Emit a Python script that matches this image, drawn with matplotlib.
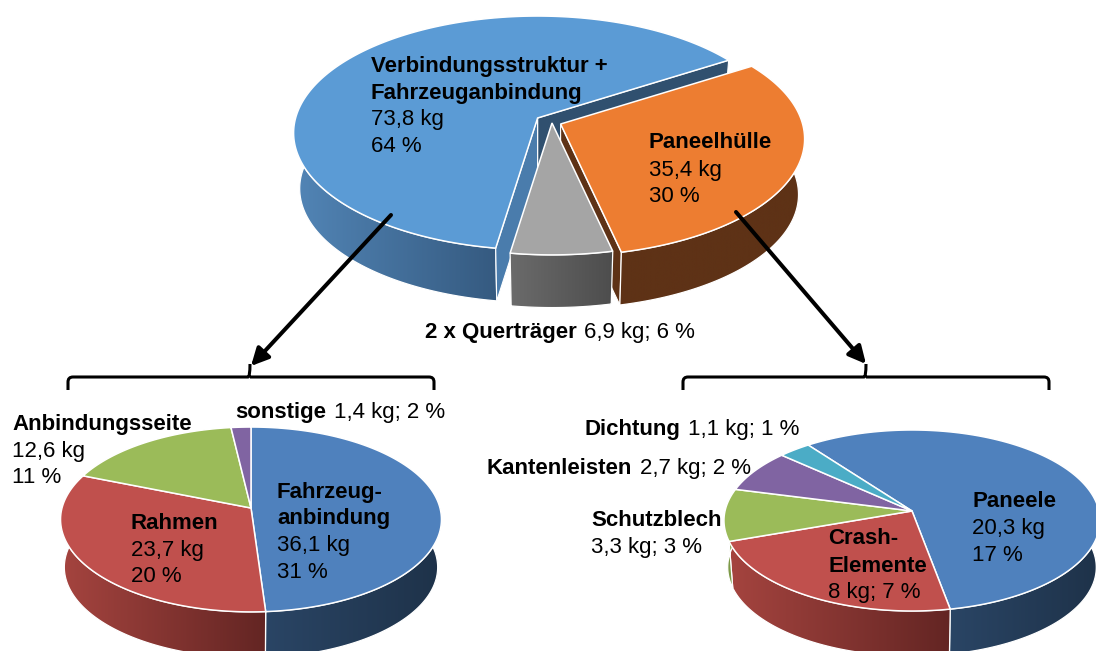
import numpy as np
import matplotlib
matplotlib.use('Agg')
import matplotlib.pyplot as plt
from matplotlib.colors import LinearSegmentedColormap
from matplotlib.patches import PathPatch, Polygon
from matplotlib.path import Path

plt.rcParams['font.family'] = ['Liberation Sans', 'DejaVu Sans']

# Gewichte in kg
main_names = ['Verbindungsstruktur + Fahrzeuganbindung', 'Paneelhülle', '2 x Querträger']
main_values = [73.8, 35.4, 6.9]
left_names = ['Fahrzeuganbindung', 'Rahmen', 'Anbindungsseite', 'sonstige']
left_values = [36.1, 23.7, 12.6, 1.4]
right_names = ['Paneele', 'Crash-Elemente', 'Schutzblech', 'Kantenleisten', 'Dichtung']
right_values = [20.3, 8, 3.3, 2.7, 1.1]

# x, Grundlinie (Pixel), Text, fett?
labels = [
    (371, 72, 'Verbindungsstruktur +', True), (371, 99, 'Fahrzeuganbindung', True),
    (371, 125, '73,8 kg', False), (371, 152, '64 %', False),
    (649, 148, 'Paneelhülle', True), (649, 176, '35,4 kg', False), (649, 202, '30 %', False),
    (425, 338, '2 x Querträger', True), (584, 338, '6,9 kg; 6 %', False),
    (235, 418, 'sonstige', True), (334, 418, '1,4 kg; 2 %', False),
    (12, 430, 'Anbindungsseite', True), (12, 457, '12,6 kg', False), (12, 483, '11 %', False),
    (131, 529, 'Rahmen', True), (131, 556, '23,7 kg', False), (131, 582, '20 %', False),
    (277, 498, 'Fahrzeug-', True), (277, 524, 'anbindung', True),
    (277, 551, '36,1 kg', False), (277, 578, '31 %', False),
    (584, 435, 'Dichtung', True), (688, 435, '1,1 kg; 1 %', False),
    (487, 474, 'Kantenleisten', True), (640, 474, '2,7 kg; 2 %', False),
    (591, 526, 'Schutzblech', True), (591, 553, '3,3 kg; 3 %', False),
    (972, 507, 'Paneele', True), (972, 534, '20,3 kg', False), (972, 561, '17 %', False),
    (828, 544, 'Crash-', True), (828, 572, 'Elemente', True), (828, 598, '8 kg; 7 %', False),
]

fig = plt.figure(figsize=(10.96, 6.51), dpi=100)
ax = fig.add_axes([0, 0, 1, 1])
z = [1]


def next_z():
    z[0] += 1
    return z[0]


def project(c, geo, deg, lower=False):
    # Kreis auf Ellipse mit leichter Perspektive
    rx, ry, k, dy, s = geo
    th = np.radians(deg)
    den = 1 + k * np.cos(th)
    if lower:
        return np.column_stack([c[0] + s * rx * np.sin(th) / den,
                                c[1] + dy - s * ry * np.cos(th) / den])
    return np.column_stack([c[0] + rx * np.sin(th) / den,
                            c[1] - ry * np.cos(th) / den])


def angles_of(values, start):
    spans = np.array(values) / np.sum(values) * 360
    return start + np.concatenate([[0], np.cumsum(spans)])


def top_face(c, geo, a, b, color):
    rim = project(c, geo, np.linspace(a, b, 200))
    ax.add_patch(Polygon(np.vstack([[c], rim]), closed=True, fc=color, ec='white', lw=1.1, zorder=next_z()))


def cut_face(c, geo, a, color):
    top = project(c, geo, np.array([a]))[0]
    bot = project(c, geo, np.array([a]), lower=True)[0]
    pts = [c, top, bot, (c[0], c[1] + geo[3])]
    ax.add_patch(Polygon(pts, closed=True, fc=color, ec='white', lw=0.8, zorder=next_z()))


def wall(c, geo, a, b, c1, c2):
    # nur der vordere Teil des Rands ist sichtbar, der Rest liegt unter der Deckfläche
    lo, hi = None, None
    for shift in (-360, 0, 360):
        l, h = max(a + shift, 65), min(b + shift, 295)
        if l < h:
            lo, hi = l, h
    if lo is None:
        return
    t = np.linspace(lo, hi, 200)
    pts = np.vstack([project(c, geo, t), project(c, geo, t[::-1], lower=True)])
    zz = next_z()
    im = ax.imshow(np.linspace(0, 1, 256)[None, :], aspect='auto', zorder=zz,
                   cmap=LinearSegmentedColormap.from_list('w', [c1, c2]),
                   extent=[pts[:, 0].min(), pts[:, 0].max(), pts[:, 1].max(), pts[:, 1].min()])
    clip = Polygon(pts, closed=True, fc='none', ec='none', transform=ax.transData)
    ax.add_patch(clip)
    im.set_clip_path(clip)
    ax.add_patch(Polygon(pts, closed=True, fc='none', ec='white', lw=0.9, zorder=zz))


def small_pie(c, geo, values, start, tops, walls):
    ang = angles_of(values, start)
    for i in range(len(values)):
        wall(c, geo, ang[i], ang[i + 1], *walls[i])
    for i in range(len(values)):
        top_face(c, geo, ang[i], ang[i + 1], tops[i])


def brace(x0, x1, xm, y, tip, head, lw=2.2):
    r = 5
    verts = [(x0, tip), (x0, y + r), (x0, y), (x0 + r, y), (xm - 2, y), (xm, y), (xm, head),
             (xm, y), (xm + 2, y), (x1 - r, y), (x1, y), (x1, y + r), (x1, tip)]
    codes = [Path.MOVETO, Path.LINETO, Path.CURVE3, Path.CURVE3, Path.LINETO, Path.CURVE3, Path.LINETO,
             Path.MOVETO, Path.LINETO, Path.LINETO, Path.CURVE3, Path.CURVE3, Path.LINETO]
    ax.add_patch(PathPatch(Path(verts, codes), fc='none', ec='black', lw=lw, zorder=60))


# Hauptkreis, Segmente einzeln herausgezogen
main_geo = (242, 115, 0.128, 56, 0.975)
c_blue, c_orange, c_gray = (537.6, 118), (560.6, 124), (552, 123)
a = angles_of(main_values, 188.7)
cut_face(c_blue, main_geo, a[1], '#30506f')
wall(c_blue, main_geo, a[0], a[1], '#5285b6', '#355a80')
cut_face(c_blue, main_geo, a[0], '#4a7cac')
top_face(c_blue, main_geo, a[0], a[1], '#5b9bd5')
cut_face(c_orange, main_geo, a[2], '#5e3216')
wall(c_orange, main_geo, a[1], a[2], '#5e3216', '#5e3216')
top_face(c_orange, main_geo, a[1], a[2], '#ed7d31')
wall(c_gray, main_geo, a[2], a[3], '#6b6b6b', '#4d4d4d')
top_face(c_gray, main_geo, a[2], a[3], '#a5a5a5')

# untere Kreise
office_tops = ['#4f81bd', '#c0504d', '#9bbb59', '#8064a2', '#4bacc6']
office_walls = [('#2a4565', '#1e3249'), ('#a5443f', '#632523'), ('#7d9a48', '#7d9a48'),
                ('#66508a', '#66508a'), ('#3c8aa0', '#3c8aa0')]
small_pie((251, 508), (189, 91, 0.124, 48, 0.98), left_values, 0, office_tops[:4], office_walls[:4])
small_pie((912, 511), (187, 89.5, 0.105, 47, 0.98), right_values, -37, office_tops, office_walls)

# Klammern und Pfeile
brace(68, 434, 250, 377, 390, 364)
brace(683, 1049, 866, 377, 390, 364)
for start, end in [((391, 215), (251, 366)), ((736, 212), (866, 364))]:
    ax.annotate('', xy=end, xytext=start, zorder=61,
                arrowprops=dict(arrowstyle='-|>', color='black', lw=2.9, mutation_scale=26,
                                shrinkA=0, shrinkB=0))

for x, y, txt, bold in labels:
    ax.text(x, y, txt, fontsize=16, color='black', va='baseline', ha='left',
            fontweight='bold' if bold else 'normal', zorder=70)

ax.set_xlim(0, 1096)
ax.set_ylim(651, 0)
ax.axis('off')
fig.savefig('out.png', dpi=100)
